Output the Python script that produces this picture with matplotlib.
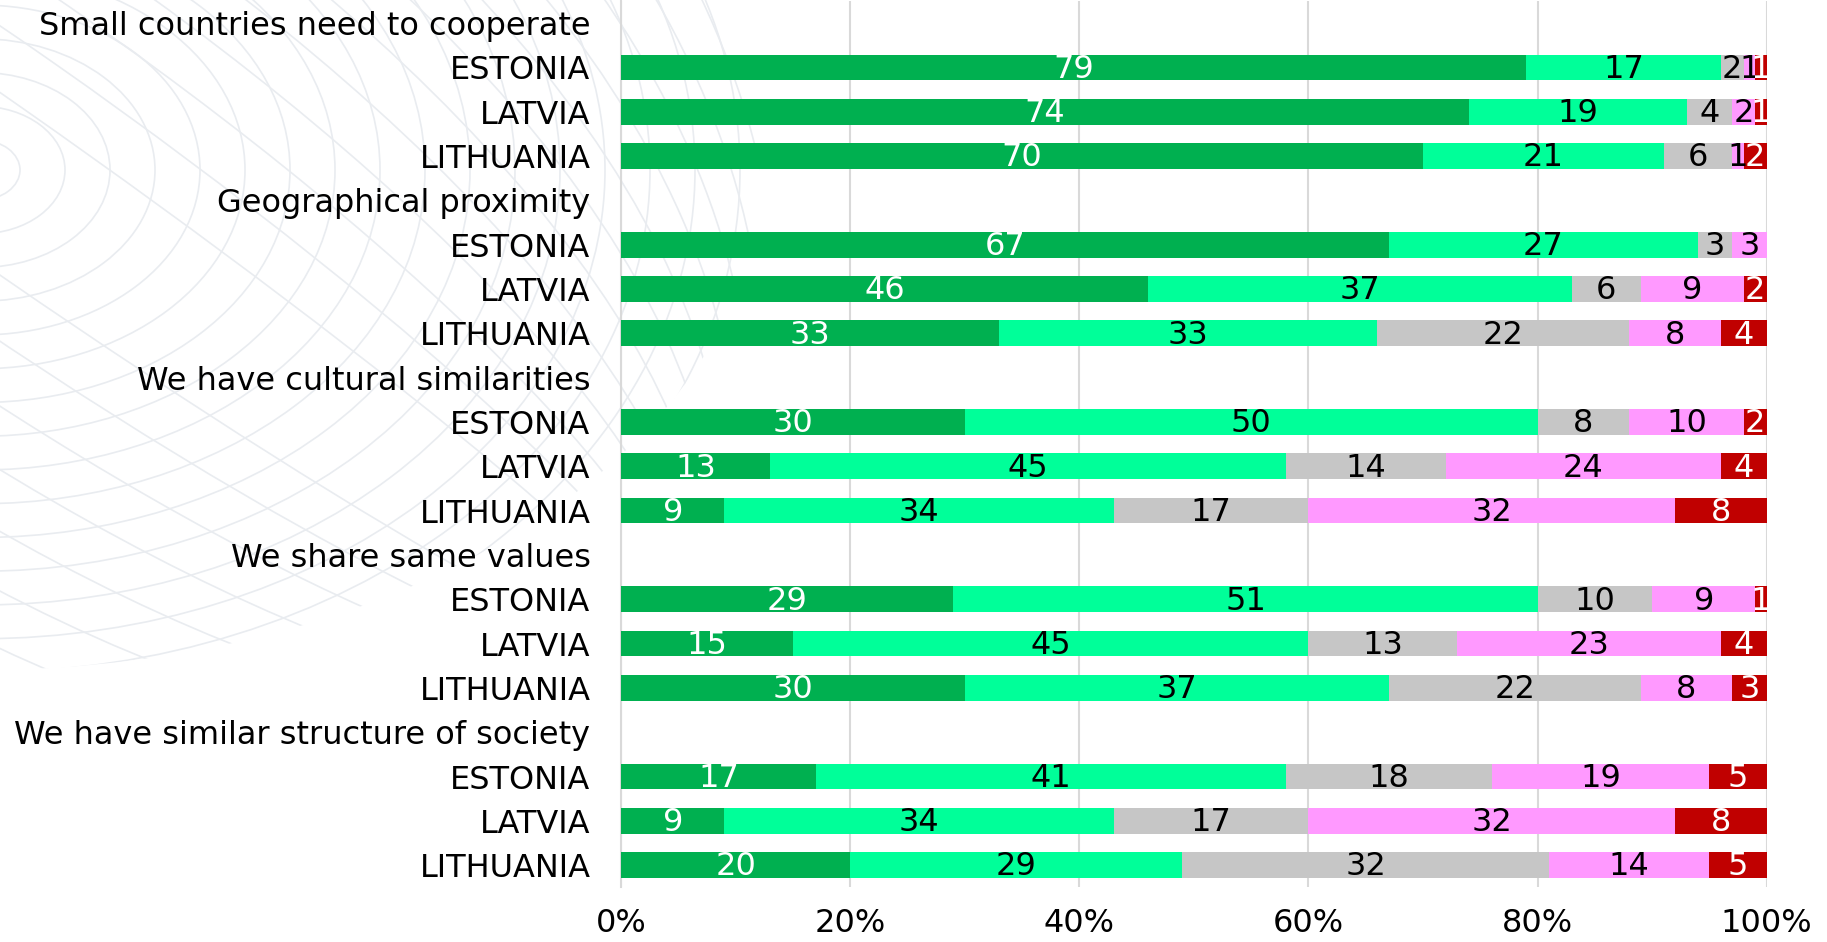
import numpy as np
import matplotlib
matplotlib.use("Agg")
import matplotlib.pyplot as plt
from matplotlib.patches import Ellipse

plt.rcParams['font.family'] = ['DejaVu Sans']

categories = ["Small countries need to cooperate", "Geographical proximity",
              "We have cultural similarities", "We share same values",
              "We have similar structure of society"]
countries = ["ESTONIA", "LATVIA", "LITHUANIA"]

# one value per country row, groups in the order of categories
dark_green = [79, 74, 70, 67, 46, 33, 30, 13, 9, 29, 15, 30, 17, 9, 20]
light_green = [17, 19, 21, 27, 37, 33, 50, 45, 34, 51, 45, 37, 41, 34, 29]
grey = [2, 4, 6, 3, 6, 22, 8, 14, 17, 10, 13, 22, 18, 17, 32]
pink = [1, 2, 1, 3, 9, 8, 10, 24, 32, 9, 23, 8, 19, 32, 14]
red = [1, 1, 2, 0, 2, 4, 2, 4, 8, 1, 4, 3, 5, 8, 5]

series = [dark_green, light_green, grey, pink, red]
colors = ["#00B050", "#00FF99", "#C6C6C6", "#FF99FF", "#C00000"]
text_colors = ["white", "black", "black", "black", "white"]

xticks = [0, 20, 40, 60, 80, 100]
xticklabels = ["0%", "20%", "40%", "60%", "80%", "100%"]

fig = plt.figure(figsize=(18.27, 9.42), dpi=100)

# faint decorative background (globe-like lines in the upper left)
bg = fig.add_axes([0, 0, 1, 1], zorder=-1)
bg.set_xlim(0, 1827)
bg.set_ylim(942, 0)
bg.axis("off")
line_col = "#E9ECF0"
clip = Ellipse((-20, 170), 1560, 1000, transform=bg.transData)
for a in range(40, 800, 45):
    e = Ellipse((-20, 170), 2 * a, 1.5 * a, fill=False, ec=line_col, lw=1.2)
    bg.add_patch(e)
    e.set_clip_path(clip)
for w in range(150, 1600, 110):
    e = Ellipse((-20, 170), w, 1700, angle=-55, fill=False, ec=line_col, lw=1.2)
    bg.add_patch(e)
    e.set_clip_path(clip)

ax = fig.add_axes([0.34, 0.058, 0.627, 0.941])
ax.set_facecolor("none")

labels = []
bar_y = []
for g, cat in enumerate(categories):
    labels.append(cat)
    for c in countries:
        bar_y.append(len(labels))
        labels.append(c)
bar_y = np.array(bar_y)

fs = 23
left = np.zeros(len(bar_y))
for vals, col, tcol in zip(series, colors, text_colors):
    vals = np.array(vals, dtype=float)
    ax.barh(bar_y, vals, left=left, height=0.58, color=col, zorder=3)
    for y, l, v in zip(bar_y, left, vals):
        if v > 0:
            ax.text(l + v / 2, y + 0.04, f"{v:g}", ha="center", va="center",
                    color=tcol, fontsize=fs, zorder=4)
    left += vals

ax.set_yticks(range(len(labels)))
ax.set_yticklabels(labels, fontsize=fs)
ax.set_ylim(len(labels) - 0.5, -0.5)
ax.set_xlim(0, 100)
ax.set_xticks(xticks)
ax.set_xticklabels(xticklabels, fontsize=fs)
ax.tick_params(axis="y", length=0, pad=22)
ax.tick_params(axis="x", length=0, pad=15)
ax.grid(axis="x", color="#D9D9D9", lw=1.5, zorder=0)
for s in ["top", "right", "bottom"]:
    ax.spines[s].set_visible(False)
ax.spines["left"].set_color("#D9D9D9")
ax.spines["left"].set_linewidth(1.5)

fig.savefig("out.png", dpi=100)
